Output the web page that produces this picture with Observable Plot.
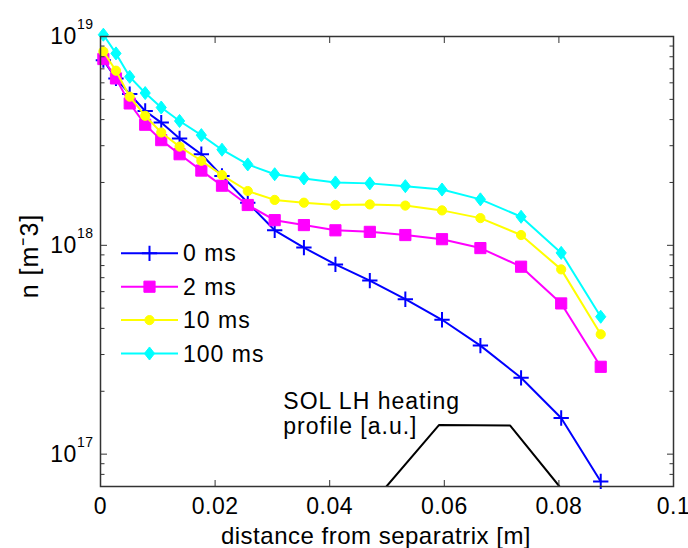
<!DOCTYPE html>
<html><head><meta charset="utf-8">
<script src="https://cdn.jsdelivr.net/npm/d3@7"></script>
<script src="https://cdn.jsdelivr.net/npm/@observablehq/plot@0.6"></script>
<style>
body{margin:0;background:#fff;}
#chart{position:relative;width:688px;height:548px;}
</style></head><body><div id="chart"></div>
<script>
// ---- data ----
const xs = [0.0005, 0.0027, 0.0051, 0.0078, 0.0106, 0.0138, 0.0176, 0.0212, 0.0257, 0.0304, 0.0355, 0.041, 0.047, 0.0532, 0.0596, 0.0663, 0.0734, 0.0804, 0.0873];
const n0ms   = [7.7e18, 6.3e18, 5.3e18, 4.4e18, 3.87e18, 3.25e18, 2.73e18, 2.15e18, 1.6e18, 1.18e18, 9.75e17, 8.1e17, 6.78e17, 5.52e17, 4.4e17, 3.31e17, 2.32e17, 1.49e17, 7.4e16];
const n2ms   = [7.8e18, 6.3e18, 4.78e18, 3.78e18, 3.19e18, 2.73e18, 2.28e18, 1.93e18, 1.56e18, 1.32e18, 1.25e18, 1.18e18, 1.16e18, 1.12e18, 1.07e18, 9.7e17, 7.9e17, 5.27e17, 2.62e17];
const n10ms  = [8.47e18, 6.86e18, 5.15e18, 4.17e18, 3.47e18, 2.97e18, 2.54e18, 2.17e18, 1.82e18, 1.65e18, 1.6e18, 1.56e18, 1.57e18, 1.55e18, 1.47e18, 1.35e18, 1.12e18, 7.67e17, 3.75e17];
const n100ms = [1.02e19, 8.3e18, 6.41e18, 5.36e18, 4.57e18, 3.94e18, 3.37e18, 2.87e18, 2.44e18, 2.19e18, 2.09e18, 2.0e18, 1.98e18, 1.92e18, 1.85e18, 1.66e18, 1.37e18, 9.2e17, 4.55e17];
const seriesNames = ["0 ms", "2 ms", "10 ms", "100 ms"];
const seriesColors = ["#0000ff", "#ff00ff", "#ffff00", "#00ffff"];
const seriesSymbols = ["plus", "square", "circle", "diamond"];
const profileX = [0.0499, 0.0591, 0.0715, 0.0801];
const profileN = [7e16, 1.38e17, 1.37e17, 7e16];
const annotLines = ["SOL LH heating", "profile [a.u.]"];
const annotX = [0.0319, 0.0319];
const annotN = [1.64e17, 1.245e17];
const xTickValues = [0, 0.02, 0.04, 0.06, 0.08, 0.1];
const yMajorTicks = [1e17, 1e18, 1e19];
const yMinorTicks = [7e16, 8e16, 9e16, 2e17, 3e17, 4e17, 5e17, 6e17, 7e17, 8e17, 9e17, 2e18, 3e18, 4e18, 5e18, 6e18, 7e18, 8e18, 9e18];
const xLabel = "distance from separatrix [m]";
const yLabel = "n [m\u207B3]";

// ---- build ----
const values = [n0ms, n2ms, n10ms, n100ms];
const rows = [];
seriesNames.forEach((s, i) => xs.forEach((x, j) => rows.push({series: s, x, n: values[i][j]})));
const profile = profileX.map((x, i) => ({x, n: profileN[i]}));
const annots = annotLines.map((t, i) => ({t, x: annotX[i], n: annotN[i]}));

const FONT = "'Liberation Sans', Arial, sans-serif";
// diamond a little taller than wide, as in the reference
const diamondSym = {
  draw(context, size) {
    const h = Math.sqrt(size) * 0.8, w = h * 0.78;
    context.moveTo(0, -h); context.lineTo(w, 0); context.lineTo(0, h); context.lineTo(-w, 0); context.closePath();
  }
};
const symMap = {plus: d3.symbolPlus, square: d3.symbolSquare, circle: d3.symbolCircle, diamond: diamondSym};
const symSize = {plus: 5, square: 6.3, circle: 4.6, diamond: 4.6};

const seriesMarks = [];
seriesNames.forEach((s, i) => {
  const d = rows.filter(r => r.series === s);
  const sym = seriesSymbols[i];
  seriesMarks.push(Plot.line(d, {x: "x", y: "n", stroke: seriesColors[i], strokeWidth: 2}));
  seriesMarks.push(Plot.dot(d, {
    x: "x", y: "n", symbol: () => symMap[sym],
    stroke: seriesColors[i], strokeWidth: sym === "plus" ? 2 : 1,
    fill: sym === "plus" ? "none" : seriesColors[i],
    r: symSize[sym]
  }));
});

const xFmt = d => String(+d.toFixed(2));
const plot = Plot.plot({
  width: 688, height: 548,
  marginLeft: 100, marginRight: 15, marginTop: 36, marginBottom: 62,
  style: {fontFamily: FONT, fontSize: "23px", color: "#000", background: "#fff", overflow: "visible", letterSpacing: "0.5px"},
  x: {domain: [0, 0.1]},
  y: {type: "log", domain: [7e16, 1e19]},
  symbol: {type: "identity"},
  marks: [
    Plot.line(profile, {x: "x", y: "n", stroke: "#000", strokeWidth: 2, clip: true}),
    ...seriesMarks,
    Plot.text(annots, {x: "x", y: "n", text: "t", textAnchor: "start", lineAnchor: "bottom", fontSize: 23, fill: "#000"}),
    Plot.frame({stroke: "#333", strokeWidth: 1.5}),
    Plot.axisX({ticks: xTickValues, tickSize: 0, tickPadding: 11, tickFormat: xFmt, label: null}),
    Plot.axisX({ticks: xTickValues.slice(1, -1), anchor: "bottom", tickSize: -6, tickFormat: () => "", label: null, stroke: "#333"}),
    Plot.axisX({ticks: xTickValues.slice(1, -1), anchor: "top", tickSize: -6, tickFormat: () => "", label: null, stroke: "#333"}),
    Plot.axisY({ticks: yMajorTicks, anchor: "left", tickSize: 0, tickPadding: 7, tickFormat: d => "10^" + Math.round(Math.log10(d)), label: null}),
    Plot.axisY({ticks: yMajorTicks, anchor: "left", tickSize: -7, tickFormat: () => "", label: null, stroke: "#333"}),
    Plot.axisY({ticks: yMinorTicks, anchor: "left", tickSize: -4.5, tickFormat: () => "", label: null, stroke: "#333"}),
    Plot.axisY({ticks: yMajorTicks, anchor: "right", tickSize: -7, tickFormat: () => "", label: null, stroke: "#333"}),
    Plot.axisY({ticks: yMinorTicks, anchor: "right", tickSize: -4.5, tickFormat: () => "", label: null, stroke: "#333"})
  ]
});

const svg = d3.select(plot);
// annotation letter spacing
svg.selectAll('g[aria-label="text"] text').attr("letter-spacing", "1px");
// superscript exponents on y tick labels
svg.selectAll('g[aria-label="y-axis tick label"] text').each(function() {
  const t = this.textContent;
  if (!t.includes("^")) return;
  const [b, e] = t.split("^");
  const sel = d3.select(this);
  sel.text(null);
  sel.append("tspan").text(b);
  sel.append("tspan").attr("dy", -15).attr("font-size", "14px").text(e);
});

// axis titles
svg.append("text").attr("x", 376).attr("y", 544).attr("text-anchor", "middle")
  .attr("font-family", FONT).attr("font-size", 24).attr("letter-spacing", "0.5px").attr("fill", "#000").text(xLabel);
svg.append("text").attr("transform", "translate(38,256) rotate(-90)").attr("text-anchor", "middle")
  .attr("font-family", FONT).attr("font-size", 25).attr("letter-spacing", "1px").attr("fill", "#000").text(yLabel);

// legend (inside the axes, no box)
const lg = svg.append("g").attr("font-family", FONT).attr("font-size", 23).attr("letter-spacing", "1px");
seriesNames.forEach((s, i) => {
  const y = 253.3 + i * 33.4;
  const g = lg.append("g").attr("transform", `translate(0,${y})`);
  g.append("line").attr("x1", 121).attr("x2", 178).attr("stroke", seriesColors[i]).attr("stroke-width", 2);
  const sym = seriesSymbols[i], r = symSize[sym];
  g.append("path").attr("transform", "translate(149.5,0)")
    .attr("d", d3.symbol(symMap[sym], Math.PI * r * r)())
    .attr("fill", sym === "plus" ? "none" : seriesColors[i])
    .attr("stroke", seriesColors[i]).attr("stroke-width", sym === "plus" ? 2 : 1);
  g.append("text").attr("x", 183).attr("y", 8).attr("text-anchor", "start").attr("fill", "#000").text(s);
});

document.getElementById("chart").appendChild(plot);
</script>
</body></html>
